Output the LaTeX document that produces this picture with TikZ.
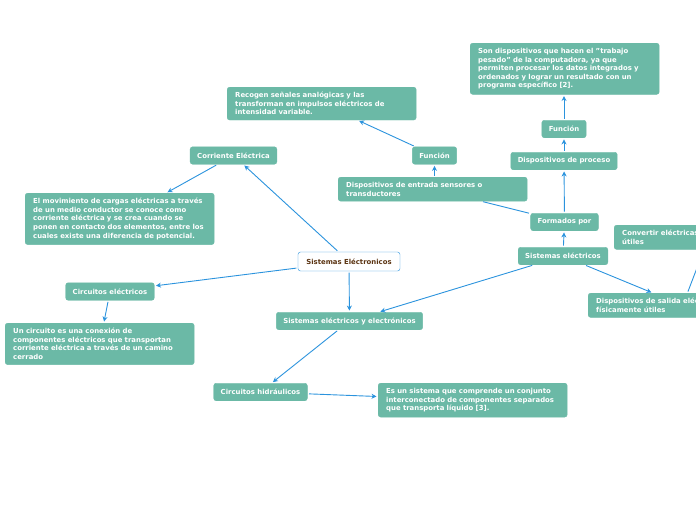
\documentclass[tikz,border=0pt]{standalone}
\usepackage{fontspec}
\setmainfont{DejaVu Sans}[BoldFont={DejaVu Sans Bold}]
\usetikzlibrary{arrows.meta}
\usetikzlibrary{positioning}
\definecolor{verde}{HTML}{6BB9A6}
\definecolor{azul}{HTML}{2B93DD}
\definecolor{marron}{HTML}{5B3412}
\tikzset{
    caja/.style = {align=center, rounded corners=2.5pt, inner sep=0pt,
        font=\fontsize{6.9}{8.6}\selectfont\bfseries, text=white},
    nodo_t/.style = {caja, fill=verde, draw=verde, minimum height=17.5pt,
        inner xsep=7pt},% etiqueta
    nodo_d/.style = {caja, fill=verde, draw=verde, align=left, anchor=north west,
        text width=173pt, inner xsep=8pt, inner ysep=5pt},% definicion
    nodo_c/.style = {caja, fill=white, draw=azul, text=marron,
        minimum height=19pt, inner xsep=8pt},% nodo central
    flecha/.style = {-{Stealth[length=5pt,width=5pt]}, draw=azul, line width=0.9pt,
        shorten >=1.5pt, shorten <=1.5pt},
    linea/.style = {draw=azul, line width=0.9pt, shorten >=1.5pt, shorten <=1.5pt},
}

\begin{document}
\begin{tikzpicture}[x=1pt,y=-1pt]
\useasboundingbox (0,0) rectangle (696,520);
% nodos
\node [nodo_c, minimum width=102pt] (sistel) at (349,261.5) {Sistemas Eléctronicos};
\node [nodo_t] (corr) at (233.5,155.5) {Corriente Eléctrica};
\node [nodo_d] (dcorr) at (25,193) {El movimiento de cargas eléctricas a través\\de un medio conductor se conoce como\\corriente eléctrica y se crea cuando se\\ponen en contacto dos elementos, entre los\\cuales existe una diferencia de potencial.};
\node [nodo_t] (circ) at (110,291.5) {Circuitos eléctricos};
\node [nodo_d] (dcirc) at (5,323) {Un circuito es una conexión de\\componentes eléctricos que transportan\\corriente eléctrica a través de un camino\\cerrado};
\node [nodo_t] (sisye) at (349.5,321) {Sistemas eléctricos y electrónicos};
\node [nodo_t] (hidr) at (260.5,392) {Circuitos hidráulicos};
\node [nodo_d] (dhidr) at (378,383) {Es un sistema que comprende un conjunto\\interconectado de componentes separados\\que transporta líquido [3].};
\node [nodo_t] (sise) at (563,256) {Sistemas eléctricos};
\node [nodo_t] (form) at (564.5,222) {Formados por};
\node [nodo_t] (proc) at (564,161) {Dispositivos de proceso};
\node [nodo_t] (funcb) at (564,129) {Función};
\node [nodo_d] (dproc) at (470,43) {Son dispositivos que hacen el "trabajo\\pesado" de la computadora, ya que\\permiten procesar los datos integrados y\\ordenados y lograr un resultado con un\\programa específico [2].};
\node [nodo_t] (funca) at (434.5,155.5) {Función};
\node [nodo_d] (dentr) at (227,87) {Recogen señales analógicas y las\\transforman en impulsos eléctricos de\\intensidad variable.};
\node [nodo_d] (entr) at (338,177) {Dispositivos de entrada sensores o\\transductores};
\node [nodo_d] (conv) at (614,225) {Convertir eléctricas\\útiles};
\node [nodo_d] (sal) at (588,293) {Dispositivos de salida eléctricos\\físicamente útiles};
% conectores
\draw [flecha] (sistel) -- (corr);
\draw [flecha] (corr) -- (dcorr);
\draw [flecha] (sistel) -- (circ);
\draw [flecha] (circ) -- (dcirc);
\draw [flecha] (sistel) -- (sisye);
\draw [flecha] (sise) -- (sisye);
\draw [flecha] (sisye) -- (hidr);
\draw [flecha] (hidr) -- (dhidr);
\draw [flecha] (sise) -- (form);
\draw [flecha] (form) -- (proc);
\draw [flecha] (proc) -- (funcb);
\draw [flecha] (funcb) -- (dproc.south -| funcb);
\draw [linea] (form) -- (entr);
\draw [flecha] (funca |- entr.north) -- (funca);
\draw [flecha] (funca) -- (dentr);
\draw [flecha] (sise) -- (sal);
\draw [flecha] (sal) -- (conv);
\end{tikzpicture}
\end{document}
